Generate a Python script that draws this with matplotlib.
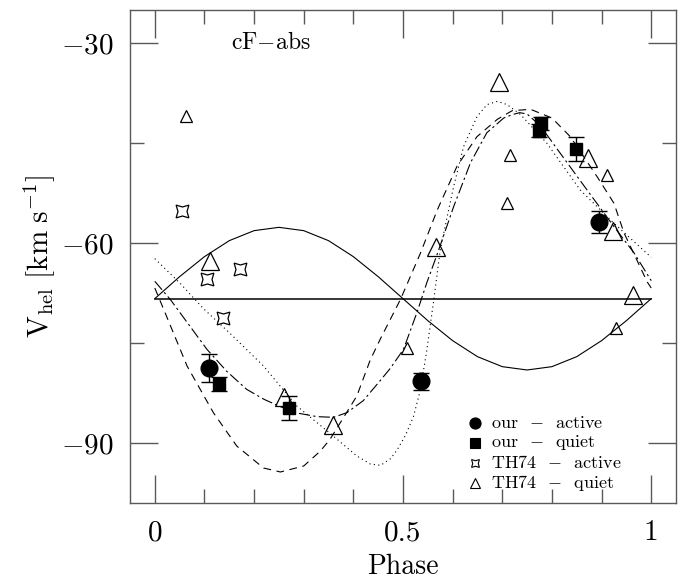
import numpy as np
import matplotlib
matplotlib.use("Agg")
import matplotlib.pyplot as plt
from matplotlib.ticker import MultipleLocator

plt.rcParams["font.family"] = "serif"
plt.rcParams["font.serif"] = ["cmr10"]
plt.rcParams["mathtext.fontset"] = "cm"
plt.rcParams["axes.formatter.use_mathtext"] = True

# --- data ---
# our - active
act_phase = [0.110, 0.536, 0.894]
act_v = [-78.7, -80.7, -56.8]
act_err = [2.1, 1.25, 1.6]

# our - quiet
qui_phase = [0.130, 0.271, 0.777, 0.773, 0.849]
qui_v = [-81.1, -84.7, -42.0, -43.1, -45.8]
qui_err = [1.1, 1.8, 1.0, 1.0, 1.8]

# TH74 - active
th_act_phase = [0.054, 0.106, 0.137, 0.171]
th_act_v = [-55.1, -65.3, -71.2, -63.8]

# TH74 - quiet (small and large symbols)
th_q_small_phase = [0.063, 0.509, 0.710, 0.715, 0.911, 0.930]
th_q_small_v = [-40.9, -75.7, -53.9, -46.8, -49.8, -72.7]
th_q_large_phase = [0.111, 0.261, 0.358, 0.567, 0.693, 0.873, 0.923, 0.963]
th_q_large_v = [-62.7, -83.0, -87.2, -60.6, -35.8, -47.2, -58.1, -67.8]

gamma = -68.3

# solid sine-like curve
sol_phase = [0.0, 0.05, 0.10, 0.15, 0.20, 0.25, 0.30, 0.35, 0.40, 0.45, 0.50,
             0.55, 0.60, 0.65, 0.70, 0.75, 0.80, 0.85, 0.90, 0.95, 1.0]
sol_v = [-68.3, -65.0, -62.0, -59.6, -58.1, -57.6, -58.1, -59.6, -62.0, -65.0, -68.3,
         -71.6, -74.6, -77.0, -78.5, -79.0, -78.5, -77.0, -74.6, -71.6, -68.3]

# long dash - short dash curve
dd_phase = [0.0, 0.031, 0.105, 0.145, 0.185, 0.22, 0.253, 0.29, 0.327, 0.36, 0.387,
            0.42, 0.454, 0.475, 0.501, 0.528, 0.548, 0.569, 0.602, 0.636, 0.669,
            0.703, 0.72, 0.735, 0.75, 0.777, 0.81, 0.857, 0.925, 0.965, 1.0]
dd_v = [-65.7, -68.4, -75.9, -79.2, -81.9, -83.4, -84.5, -85.5, -86.0, -86.1, -85.4,
        -83.6, -80.6, -78.7, -75.9, -70.4, -65.9, -61.6, -54.5, -47.9, -43.4,
        -41.2, -40.7, -40.4, -40.6, -42.4, -45.8, -50.6, -57.5, -61.4, -65.6]

# dashed curve
da_phase = [0.0, 0.014, 0.065, 0.118, 0.165, 0.219, 0.253, 0.30, 0.333, 0.353, 0.407,
            0.434, 0.454, 0.495, 0.535, 0.569, 0.609, 0.649, 0.69, 0.72, 0.757, 0.80,
            0.837, 0.891, 0.925, 0.945, 0.992, 1.0]
da_v = [-66.7, -69.2, -78.4, -85.4, -90.4, -93.7, -94.3, -93.4, -91.2, -89.4, -82.9,
        -77.5, -74.4, -68.4, -61.5, -55.0, -48.4, -44.0, -41.4, -40.1, -39.9, -41.2,
        -44.0, -50.0, -54.0, -58.4, -65.8, -66.7]

# dotted curve
dt_phase = [0.0, 0.051, 0.098, 0.15, 0.219, 0.286, 0.353, 0.407, 0.434, 0.455, 0.475,
            0.488, 0.505, 0.521, 0.535, 0.548, 0.562, 0.575, 0.589, 0.602, 0.622,
            0.649, 0.669, 0.69, 0.71, 0.737, 0.79, 0.857, 0.925, 1.0]
dt_v = [-62.3, -66.0, -69.8, -73.4, -78.4, -84.4, -88.5, -91.9, -93.1, -93.3, -92.3,
        -91.0, -88.8, -86.0, -82.0, -76.0, -68.5, -61.0, -56.0, -51.5, -45.5,
        -41.0, -39.2, -38.7, -39.2, -40.7, -45.0, -52.0, -57.0, -62.1]

fig = plt.figure(figsize=(6.83, 5.81), dpi=100)
ax = fig.add_axes([0.1903, 0.1337, 0.7995, 0.8491])

lw = 0.8
ax.plot([0, 1], [gamma, gamma], color="black", lw=1.1)
ax.plot(sol_phase, sol_v, color="black", lw=lw)
ax.plot(dd_phase, dd_v, color="black", lw=lw, dashes=(10, 3, 2, 3))
ax.plot(da_phase, da_v, color="black", lw=lw, dashes=(7, 5))
ax.plot(dt_phase, dt_v, color="black", lw=lw, dashes=(1, 3))

star = (4, 1, 45)
ax.plot(th_act_phase, th_act_v, ls="none", marker=star, ms=13, mfc="white",
        mec="black", mew=0.9)
ax.plot(th_q_small_phase, th_q_small_v, ls="none", marker="^", ms=8, mfc="none",
        mec="black", mew=0.9)
ax.plot(th_q_large_phase, th_q_large_v, ls="none", marker="^", ms=13, mfc="none",
        mec="black", mew=0.9)

ax.errorbar(qui_phase, qui_v, yerr=qui_err, fmt="s", ms=8.5, color="black",
            ecolor="black", elinewidth=1, capsize=6, capthick=1)
ax.errorbar(act_phase, act_v, yerr=act_err, fmt="o", ms=12, color="black",
            ecolor="black", elinewidth=1, capsize=6, capthick=1)

ax.set_xlim(-0.05, 1.05)
ax.set_ylim(-99, -25)
ax.xaxis.set_major_locator(MultipleLocator(0.5))
ax.xaxis.set_minor_locator(MultipleLocator(0.1))
ax.yaxis.set_major_locator(MultipleLocator(30))
ax.yaxis.set_minor_locator(MultipleLocator(15))
ax.set_xticks([0, 0.5, 1])
ax.set_xticklabels(["0", "0.5", "1"])
ax.tick_params(which="both", direction="in", top=True, right=True,
               color="0.35", width=1)
ax.tick_params(which="major", length=20, labelsize=21, pad=12)
ax.tick_params(which="minor", length=10)
for s in ax.spines.values():
    s.set_color("0.35")
    s.set_linewidth(1.0)

ax.set_xlabel("Phase", fontsize=20, labelpad=5)
ax.set_ylabel(r"$\mathrm{V_{hel}\ [km\ s^{-1}]}$", fontsize=21, labelpad=2)

ax.text(0.185, 0.955, r"cF$-$abs", transform=ax.transAxes, fontsize=17,
        ha="left", va="top")

# legend
leg_items = [("o", 8, "black", r"our  $-$  active"),
             ("s", 6.5, "black", r"our  $-$  quiet"),
             (star, 8, "white", r"TH74  $-$  active"),
             ("^", 7, "none", r"TH74  $-$  quiet")]
for i, (m, size, fc, lab) in enumerate(leg_items):
    yy = 0.163 - i * 0.0405
    ax.plot([0.632], [yy], transform=ax.transAxes, marker=m, ms=size, mfc=fc,
            mec="black", mew=0.8, ls="none", clip_on=False)
    ax.text(0.662, yy, lab, transform=ax.transAxes, fontsize=13, va="center",
            ha="left")

fig.savefig("out.png", dpi=100)
